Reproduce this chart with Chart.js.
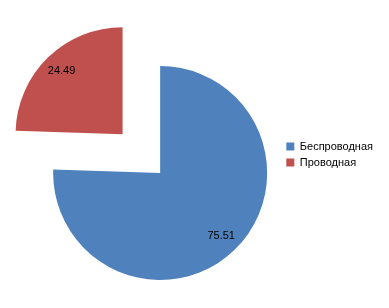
<!DOCTYPE html>
<html>
<head>
<meta charset="utf-8">
<script src="https://cdn.jsdelivr.net/npm/chart.js@4"></script>
<style>
  html, body { margin: 0; padding: 0; background: #fff; }
  #wrap { width: 389px; height: 308px; }
</style>
</head>
<body>
<div id="wrap"><canvas id="pieCanvas"></canvas></div>
<script>
var labels = ["Беспроводная", "Проводная"];
var values = [75.51, 24.49];
var colors = ["#4f81bd", "#c0504d"];
// chart.js moves an arc by offset / 4
var offsets = [0, 216];

// value labels inside the slices
var sliceLabels = {
    id: 'sliceLabels',
    afterDatasetsDraw: function (chart) {
        var ctx = chart.ctx;
        var arcs = chart.getDatasetMeta(0).data;
        ctx.save();
        ctx.font = '11px "Liberation Sans", Arial, sans-serif';
        ctx.fillStyle = '#000';
        ctx.textAlign = 'center';
        ctx.textBaseline = 'middle';
        arcs.forEach(function (arc, i) {
            var mid = (arc.startAngle + arc.endAngle) / 2;
            var d = arc.options.offset / 4 + arc.outerRadius * 0.82;
            ctx.fillText(values[i].toFixed(2), arc.x + Math.cos(mid) * d, arc.y + Math.sin(mid) * d);
        });
        ctx.restore();
    }
};

var pieCtx = document.getElementById('pieCanvas');
new Chart(pieCtx, {
    type: 'pie',
    data: {
        labels: labels,
        datasets: [
            {
                data: values,
                backgroundColor: colors,
                borderWidth: 0,
                offset: offsets
            }
        ]
    },
    options: {
        responsive: true,
        maintainAspectRatio: false,
        animation: false,
        radius: 107,
        layout: {
            // chart area must stay wider than the max offset
            padding: { left: 39, right: 6, top: 40, bottom: 2 }
        },
        plugins: {
            tooltip: { enabled: false },
            legend: {
                display: true,
                position: 'right',
                align: 'start',
                title: {
                    display: true,
                    text: '',
                    font: { size: 10, lineHeight: 1 },
                    padding: { top: 86, bottom: 0 }
                },
                labels: {
                    boxWidth: 8,
                    boxHeight: 8,
                    padding: 5,
                    color: '#000',
                    font: { family: '"Liberation Sans", Arial, sans-serif', size: 11 }
                }
            }
        }
    },
    plugins: [sliceLabels]
});
</script>
</body>
</html>
